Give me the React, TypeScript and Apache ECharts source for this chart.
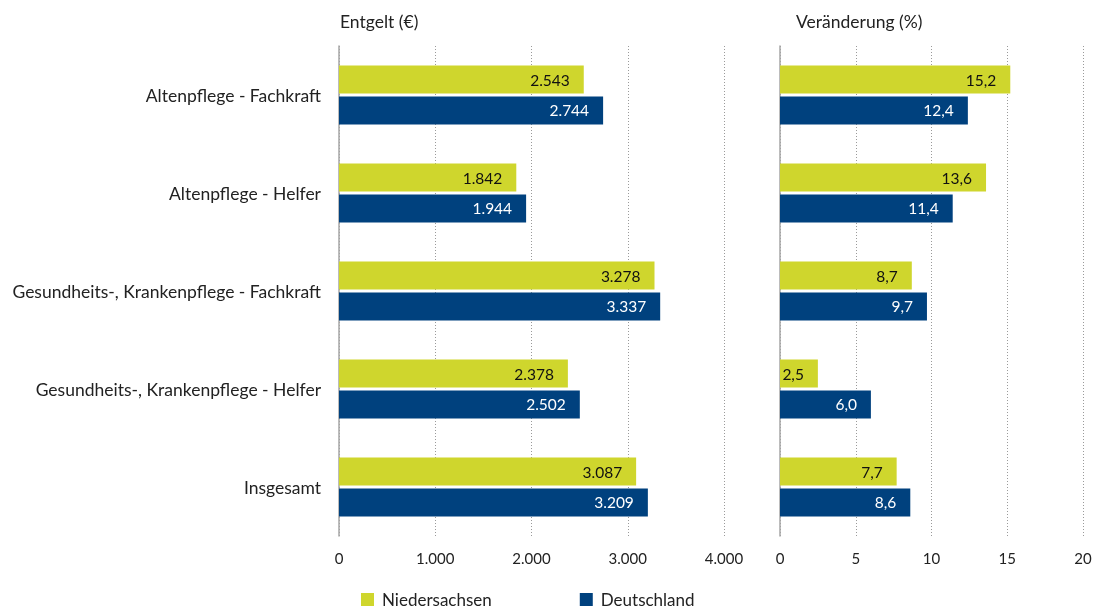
import React, { useEffect, useRef } from "react";
import * as echarts from "echarts";

const categories = [
  "Altenpflege - Fachkraft",
  "Altenpflege - Helfer",
  "Gesundheits-, Krankenpflege - Fachkraft",
  "Gesundheits-, Krankenpflege - Helfer",
  "Insgesamt",
];
const entgeltNds = [2543, 1842, 3278, 2378, 3087];
const entgeltDe = [2744, 1944, 3337, 2502, 3209];
const changeNds = [15.2, 13.6, 8.7, 2.5, 7.7];
const changeDe = [12.4, 11.4, 9.7, 6.0, 8.6];
const seriesNames = ["Niedersachsen", "Deutschland"];
const leftTicks = [0, 1000, 2000, 3000, 4000];
const rightTicks = [0, 5, 10, 15, 20];

const GREEN = "#cfd62d";
const BLUE = "#00417e";
const FONT = "Lato";

const fmtThousands = (v: number) =>
  String(Math.round(v)).replace(/\B(?=(\d{3})+(?!\d))/g, ".");
const fmtPct = (v: number) => v.toFixed(1).replace(".", ",");

export default function App() {
  const ref = useRef<HTMLDivElement>(null);
  useEffect(() => {
    if (!ref.current) return;
    const chart = echarts.init(ref.current, undefined, { renderer: "svg" });
    const gridTop = 46;
    const gridHeight = 490;
    const splitLine = {
      show: true,
      lineStyle: { color: "#9a9a9a", type: [1, 2] as any, width: 1 },
    };
    const axisLine = { show: true, lineStyle: { color: "#a6a6a6", width: 1.5 } };
    const label = (color: string, fmt: (v: number) => string) => ({
      show: true,
      position: "insideRight" as const,
      distance: 14,
      color,
      fontFamily: FONT,
      fontSize: 15.5,
      formatter: (p: any) => fmt(p.value),
    });
    const barCommon = {
      type: "bar" as const,
      barWidth: 28,
      barGap: "10%",
    };
    chart.setOption({
      animation: false,
      textStyle: { fontFamily: FONT },
      grid: [
        { left: 339, top: gridTop, width: 385, height: gridHeight },
        { left: 780, top: gridTop, width: 303, height: gridHeight },
      ],
      xAxis: [
        {
          gridIndex: 0,
          type: "value",
          min: leftTicks[0],
          max: leftTicks[leftTicks.length - 1],
          interval: 1000,
          axisLine: { show: false },
          axisTick: { show: false },
          splitLine,
          axisLabel: {
            color: "#222",
            fontSize: 15,
            fontFamily: FONT,
            margin: 14,
            formatter: (v: number) => fmtThousands(v),
          },
        },
        {
          gridIndex: 1,
          type: "value",
          min: rightTicks[0],
          max: rightTicks[rightTicks.length - 1],
          interval: 5,
          axisLine: { show: false },
          axisTick: { show: false },
          splitLine,
          axisLabel: {
            color: "#222",
            fontSize: 15,
            fontFamily: FONT,
            margin: 14,
          },
        },
      ],
      yAxis: [
        {
          gridIndex: 0,
          type: "category",
          inverse: true,
          data: categories,
          axisLine,
          axisTick: { show: false },
          axisLabel: {
            color: "#222",
            fontSize: 17.5,
            fontFamily: FONT,
            margin: 18,
          },
        },
        {
          gridIndex: 1,
          type: "category",
          inverse: true,
          data: categories,
          axisLine,
          axisTick: { show: false },
          axisLabel: { show: false },
        },
      ],
      legend: {
        top: 591,
        left: 361,
        padding: 0,
        itemGap: 88,
        itemWidth: 13,
        itemHeight: 13,
        icon: "rect",
        textStyle: { color: "#222", fontSize: 17, fontFamily: FONT, padding: [0, 0, 0, 3] },
        data: seriesNames,
      },
      graphic: [
        {
          type: "text",
          left: 340,
          top: 12,
          style: { text: "Entgelt (€)", fill: "#222", font: `17.5px ${FONT}` },
        },
        {
          type: "text",
          left: 796,
          top: 12,
          style: { text: "Veränderung (%)", fill: "#222", font: `17.5px ${FONT}` },
        },
      ],
      series: [
        {
          ...barCommon,
          name: seriesNames[0],
          xAxisIndex: 0,
          yAxisIndex: 0,
          data: entgeltNds,
          itemStyle: { color: GREEN },
          label: label("#111", fmtThousands),
        },
        {
          ...barCommon,
          name: seriesNames[1],
          xAxisIndex: 0,
          yAxisIndex: 0,
          data: entgeltDe,
          itemStyle: { color: BLUE },
          label: label("#fff", fmtThousands),
        },
        {
          ...barCommon,
          name: seriesNames[0],
          xAxisIndex: 1,
          yAxisIndex: 1,
          data: changeNds,
          itemStyle: { color: GREEN },
          label: label("#111", fmtPct),
        },
        {
          ...barCommon,
          name: seriesNames[1],
          xAxisIndex: 1,
          yAxisIndex: 1,
          data: changeDe,
          itemStyle: { color: BLUE },
          label: label("#fff", fmtPct),
        },
      ],
    });
    return () => chart.dispose();
  }, []);
  return (
    <div
      ref={ref}
      style={{ position: "fixed", left: 0, top: 0, width: 1096, height: 609 }}
    />
  );
}
